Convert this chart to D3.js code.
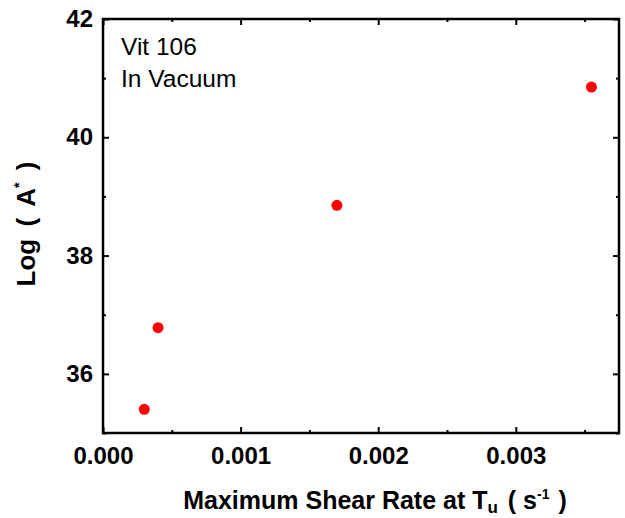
<!DOCTYPE html>
<html><head><meta charset="utf-8">
<script src="https://cdn.jsdelivr.net/npm/d3@7"></script>
<style>body{margin:0;background:#fff;} text{font-family:Arial,"Liberation Sans",sans-serif;}</style>
</head><body>
<svg id="c" width="625" height="518"></svg>
<script>
const shearRate = [0.0003, 0.0004, 0.0017, 0.00355];
const logA = [35.4, 36.78, 38.85, 40.85];
const xTicks = [0, 0.001, 0.002, 0.003];
const yTicks = [36, 38, 40, 42];
const annotation = ["Vit 106", "In Vacuum"];

const svg = d3.select("#c");
const L = 103, R = 619, T = 19, B = 433;
const x = d3.scaleLinear().domain([0, 0.00375]).range([L, R]);
const y = d3.scaleLinear().domain([35, 42]).range([B, T]);

const g = svg.append("g");
function styleAxis(sel){
  sel.select(".domain").remove();
  sel.selectAll("line").attr("stroke","#000").attr("stroke-width",2);
}
const xMinor = d3.range(0.0005, 0.00375, 0.001);
const yMinor = d3.range(35, 42.01, 1).filter(v => v % 2 !== 0);

g.append("g").attr("transform",`translate(0,${B})`)
  .call(d3.axisBottom(x).tickValues(xTicks).tickSize(-6).tickPadding(14).tickFormat(d3.format(".3f")))
  .call(styleAxis).call(s=>s.selectAll("text").attr("font-size",24).attr("font-weight","bold").attr("fill","#000"));
g.append("g").attr("transform",`translate(0,${B})`)
  .call(d3.axisBottom(x).tickValues(xMinor).tickSize(-3).tickFormat(""))
  .call(styleAxis);
g.append("g").attr("transform",`translate(0,${T})`)
  .call(d3.axisTop(x).tickValues(xTicks).tickSize(-6).tickFormat("")).call(styleAxis);
g.append("g").attr("transform",`translate(0,${T})`)
  .call(d3.axisTop(x).tickValues(xMinor).tickSize(-3).tickFormat("")).call(styleAxis);

g.append("g").attr("transform",`translate(${L},0)`)
  .call(d3.axisLeft(y).tickValues(yTicks).tickSize(-6).tickPadding(10).tickFormat(d3.format("d")))
  .call(styleAxis).call(s=>s.selectAll("text").attr("font-size",24).attr("font-weight","bold").attr("fill","#000"));
g.append("g").attr("transform",`translate(${L},0)`)
  .call(d3.axisLeft(y).tickValues(yMinor).tickSize(-3).tickFormat("")).call(styleAxis);
g.append("g").attr("transform",`translate(${R},0)`)
  .call(d3.axisRight(y).tickValues(yTicks).tickSize(-6).tickFormat("")).call(styleAxis);
g.append("g").attr("transform",`translate(${R},0)`)
  .call(d3.axisRight(y).tickValues(yMinor).tickSize(-3).tickFormat("")).call(styleAxis);

svg.append("rect").attr("x",L).attr("y",T).attr("width",R-L).attr("height",B-T)
  .attr("fill","none").attr("stroke","#000").attr("stroke-width",2.5);

svg.append("g").selectAll("circle").data(shearRate.map((d,i)=>[d,logA[i]])).join("circle")
  .attr("cx",d=>x(d[0])).attr("cy",d=>y(d[1])).attr("r",5.5).attr("fill","#ff0000");

svg.append("text").attr("x",121).attr("y",55).attr("font-size",24.5).text(annotation[0]);
svg.append("text").attr("x",121).attr("y",87).attr("font-size",24.5).text(annotation[1]);

const xt = svg.append("text").attr("x",375).attr("y",509).attr("text-anchor","middle")
  .attr("font-size",25).attr("font-weight","bold");
xt.append("tspan").text("Maximum Shear Rate at T");
xt.append("tspan").attr("font-size",17).attr("dy",4).text("u");
xt.append("tspan").attr("dy",-4).attr("dx",3).text(" ( s");
xt.append("tspan").attr("font-size",14).attr("dy",-10).text("-1");
xt.append("tspan").attr("dy",10).attr("dx",2).text(" )");

const yt = svg.append("text").attr("transform",`translate(35,224) rotate(-90)`).attr("text-anchor","middle")
  .attr("font-size",26).attr("font-weight","bold");
yt.append("tspan").text("Log");
yt.append("tspan").attr("dx",5).text(" (");
yt.append("tspan").attr("dx",5).text(" A");
yt.append("tspan").attr("font-size",14).attr("dy",-11).text("*");
yt.append("tspan").attr("dy",11).attr("dx",5).text(" )");
</script>
</body></html>
